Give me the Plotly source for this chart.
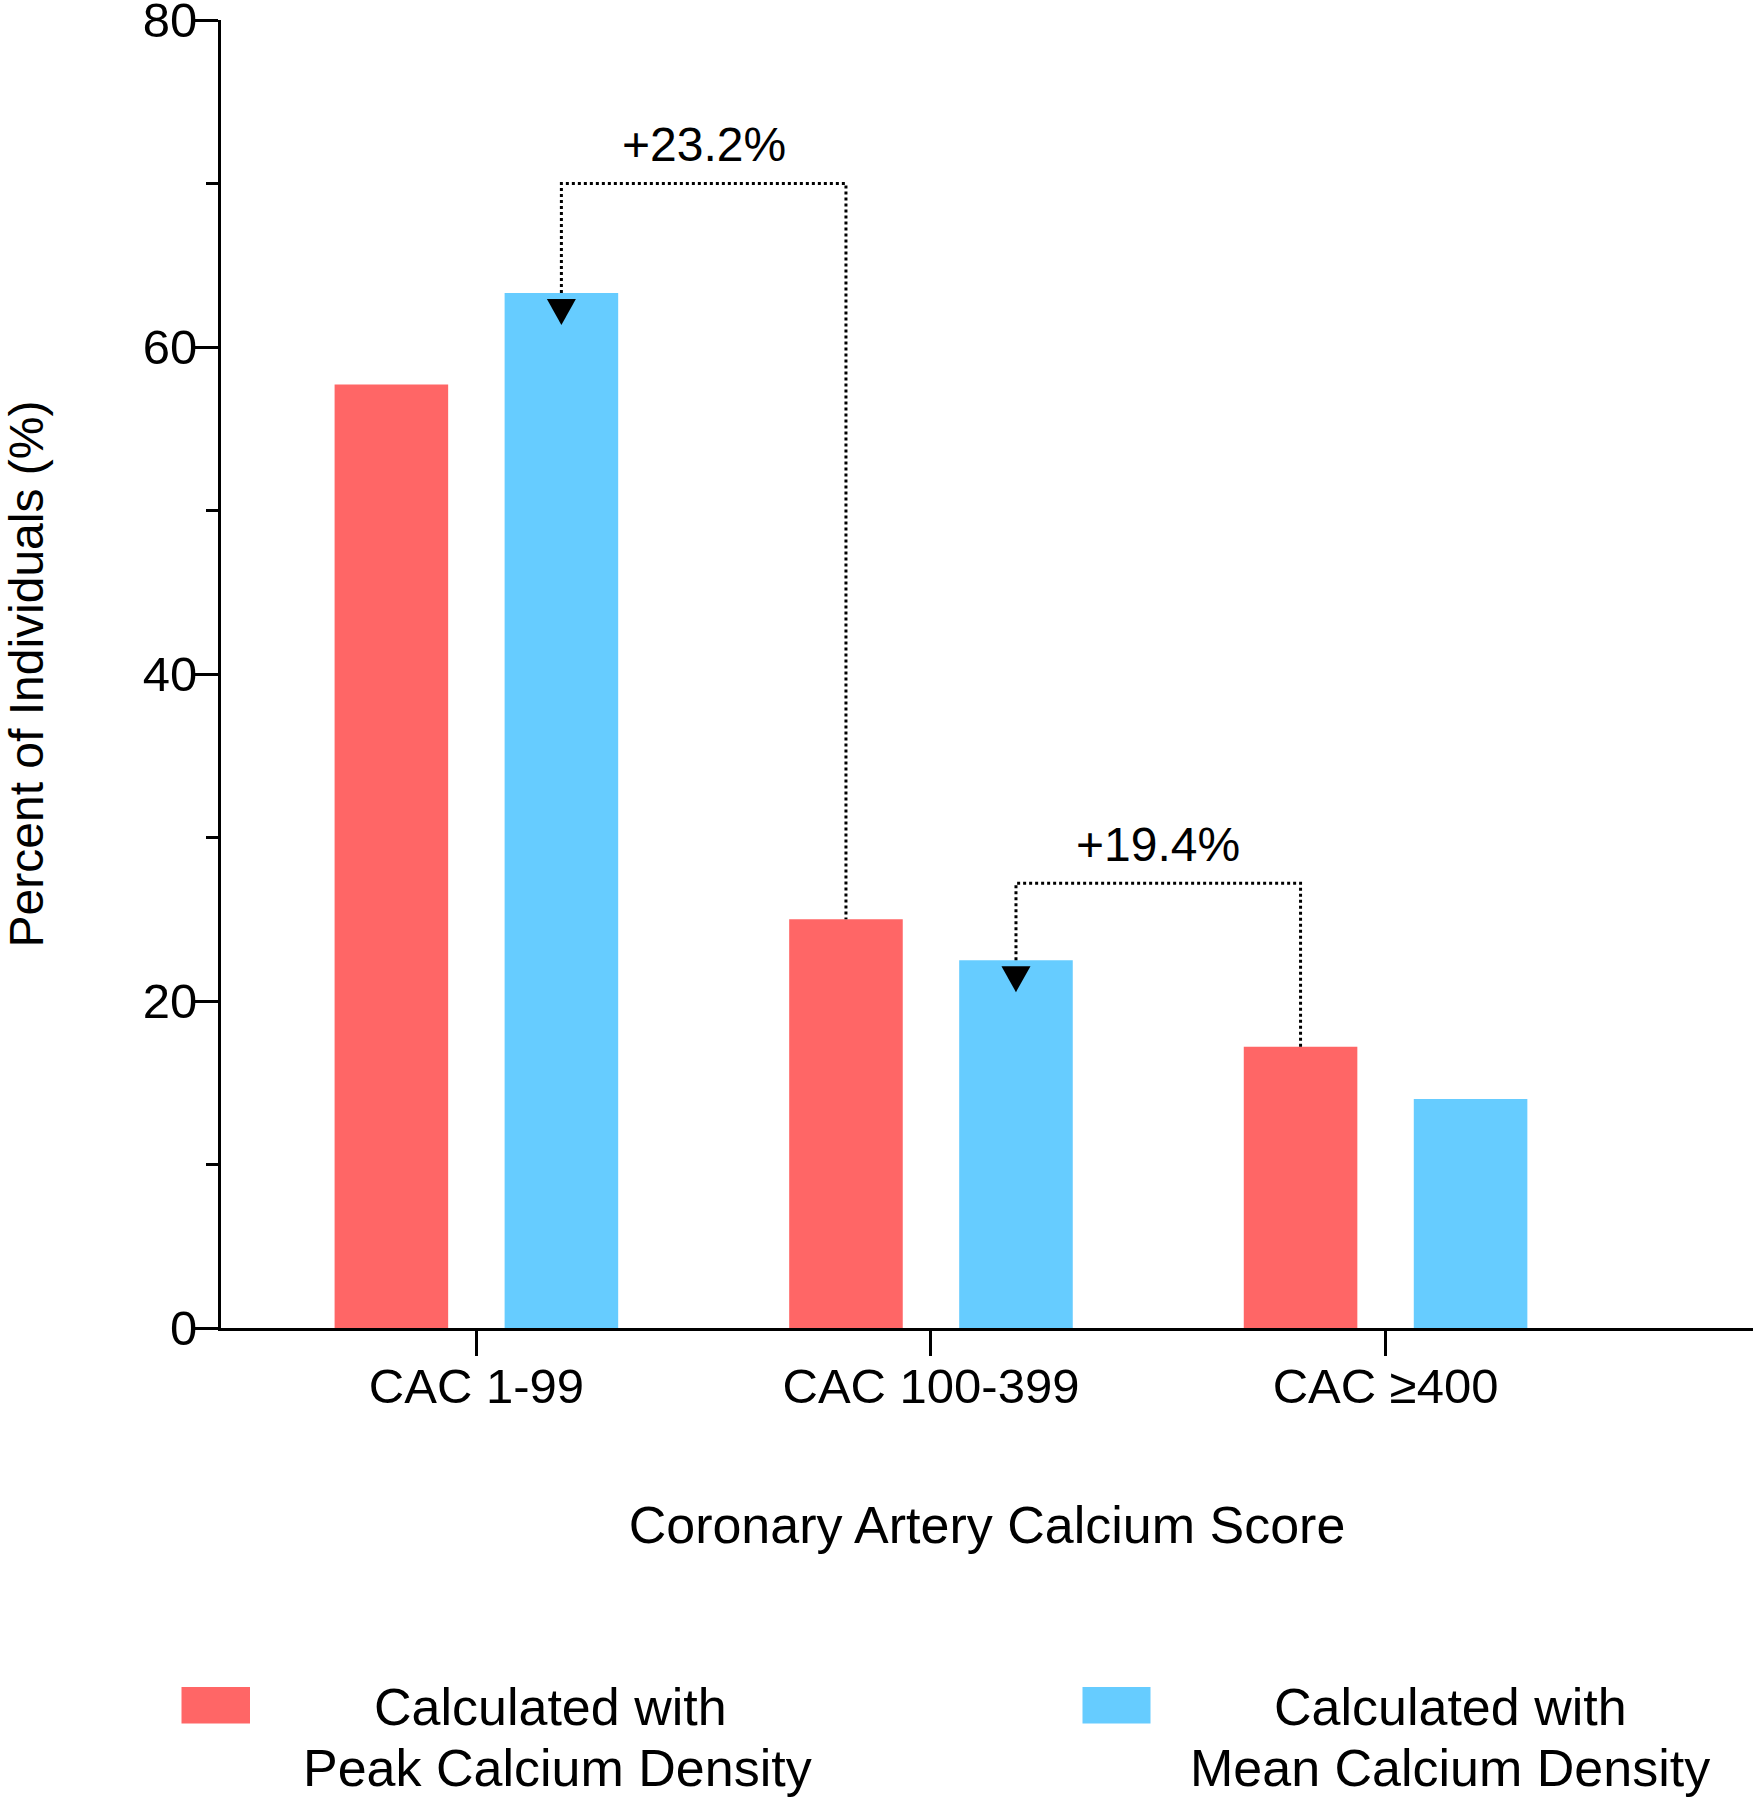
import plotly.graph_objects as go

# ---------------- data ----------------
categories = ["CAC 1-99", "CAC 100-399", "CAC ≥400"]
peak_density = [57.7, 25.0, 17.2]
mean_density = [63.3, 22.5, 14.0]
series_names = ["Calculated with<br>Peak Calcium Density",
                "Calculated with<br>Mean Calcium Density"]
y_ticks = [0, 20, 40, 60, 80]
minor_ticks = [10, 30, 50, 70]
shift_labels = ["+23.2%", "+19.4%"]
shift_levels = [70.0, 27.2]
shift_label_y = [72.4, 29.6]

# ---------------- styling ----------------
RED = "#FF6666"
BLUE = "#66CCFF"
FONT = "Liberation Sans, Arial, sans-serif"
W, H = 1755, 1800
ML, MR, MT, MB = 221, 2, 20, 472
X_RANGE = [-0.5618, 2.8083]
Y_RANGE = [0, 80]
BARGAP = 0.252
BARGROUPGAP = 0.332

plot_w = W - ML - MR
plot_h = H - MT - MB
px_per_cat = plot_w / (X_RANGE[1] - X_RANGE[0])
px_per_unit = plot_h / (Y_RANGE[1] - Y_RANGE[0])
offset = (1 - BARGAP) / 4  # centre offset of each bar within the group

xs = list(range(len(categories)))

fig = go.Figure()
fig.add_trace(go.Bar(x=xs, y=peak_density, name=series_names[0],
                     marker=dict(color=RED, line=dict(width=0)), showlegend=False))
fig.add_trace(go.Bar(x=xs, y=mean_density, name=series_names[1],
                     marker=dict(color=BLUE, line=dict(width=0)), showlegend=False))

shapes = []
annotations = []
head_half_w = 14.5 / px_per_cat
head_h = 26 / px_per_unit
head_gap = 6 / px_per_unit
for k, (lab, lvl, ly) in enumerate(zip(shift_labels, shift_levels, shift_label_y)):
    xl = xs[k] + offset          # mean bar of category k
    xr = xs[k + 1] - offset      # peak bar of category k+1
    fig.add_trace(go.Scatter(
        x=[xl, xl, xr, xr],
        y=[mean_density[k], lvl, lvl, peak_density[k + 1]],
        mode="lines", line=dict(color="black", width=3, dash="dot"),
        showlegend=False, hoverinfo="skip"))
    base = mean_density[k] - head_gap
    tip = base - head_h
    shapes.append(dict(
        type="path", xref="x", yref="y",
        path=f"M {xl - head_half_w},{base} L {xl + head_half_w},{base} L {xl},{tip} Z",
        fillcolor="black", line=dict(width=0)))
    annotations.append(dict(
        x=(xl + xr) / 2, y=ly, xref="x", yref="y", text=lab, showarrow=False,
        font=dict(size=48, color="black", family=FONT),
        xanchor="center", yanchor="middle"))


# manual legend (large swatches, centred two-line labels); pixel targets
def px2paper_x(px):
    return (px - ML) / plot_w


def px2paper_y(py):
    return (H - MB - py) / plot_h


legend_items = [(RED, 181.5, 250, (550, 557)), (BLUE, 1082.5, 1150.5, (1450, 1450))]
line_y = (1707, 1768)
for (col, x0, x1, tx), name in zip(legend_items, series_names):
    shapes.append(dict(type="rect", xref="paper", yref="paper",
                       x0=px2paper_x(x0), x1=px2paper_x(x1),
                       y0=px2paper_y(1723.5), y1=px2paper_y(1687),
                       fillcolor=col, line=dict(width=0)))
    for line_text, lx, ly in zip(name.split("<br>"), tx, line_y):
        annotations.append(dict(x=px2paper_x(lx), y=px2paper_y(ly),
                                xref="paper", yref="paper", text=line_text,
                                showarrow=False, xanchor="center", yanchor="middle",
                                font=dict(size=52, color="black", family=FONT)))

fig.update_layout(
    width=W, height=H,
    margin=dict(l=ML, r=MR, t=MT, b=MB, pad=0),
    paper_bgcolor="white", plot_bgcolor="white",
    barmode="group", bargap=BARGAP, bargroupgap=BARGROUPGAP,
    font=dict(family=FONT, color="black"),
    shapes=shapes, annotations=annotations,
    xaxis=dict(range=X_RANGE, tickmode="array", tickvals=xs, ticktext=categories,
               showgrid=False, zeroline=False, showline=True, linecolor="black",
               linewidth=3, ticks="outside", ticklen=25, tickwidth=2.5,
               tickcolor="black", tickfont=dict(size=49, family=FONT),
               ticklabelstandoff=-12, automargin="bottom",
               title=dict(text="Coronary Artery Calcium Score",
                          font=dict(size=52, family=FONT), standoff=95)),
    yaxis=dict(range=Y_RANGE, tickmode="array", tickvals=y_ticks,
               showgrid=False, zeroline=False, showline=True, linecolor="black",
               linewidth=3, ticks="outside", ticklen=23, tickwidth=3,
               tickcolor="black", tickfont=dict(size=49, family=FONT),
               ticklabelstandoff=-12, ticklabeloverflow="allow", automargin="left",
               minor=dict(tickmode="array", tickvals=minor_ticks, ticks="outside",
                          ticklen=12, tickwidth=3, tickcolor="black"),
               title=dict(text="Percent of Individuals (%)",
                          font=dict(size=48, family=FONT), standoff=100)),
)

# the page's default 8px body margin is removed so the figure fills the window exactly
fig.write_html("out.html", config={"displayModeBar": False},
               post_script="document.body.style.margin='0';")
